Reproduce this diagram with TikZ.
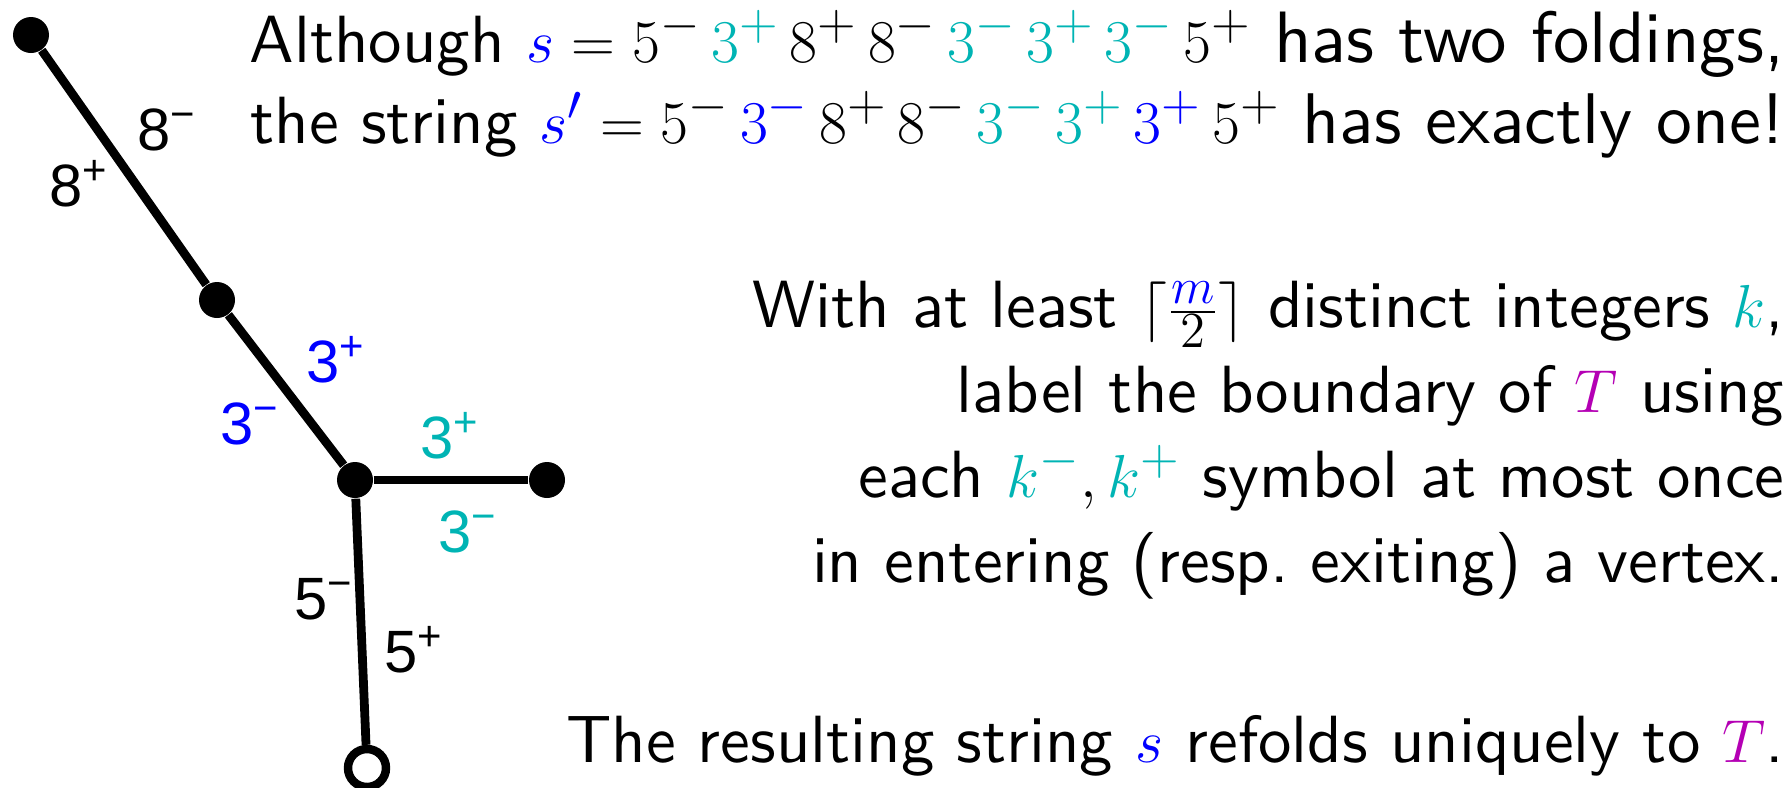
\documentclass[tikz,border=0pt]{standalone}
\usepackage{fontspec}
\usepackage{xcolor}
\usetikzlibrary{positioning}
\newfontfamily\lblfont{Liberation Sans}
\newfontfamily\txtfont{lmsans10-regular.otf}
\definecolor{sblue}{RGB}{0,0,255}
\definecolor{kcyan}{RGB}{0,180,180}
\definecolor{tmag}{RGB}{180,0,180}
\newcommand{\cy}[1]{\textcolor{kcyan}{#1}}
\newcommand{\bl}[1]{\textcolor{sblue}{#1}}
\newcommand{\mg}[1]{\textcolor{tmag}{#1}}
\newcommand{\wider}[2]{{\fontsize{#1}{24}\selectfont #2}}

\begin{document}
\begin{tikzpicture}[
  dot/.style={circle, fill=black, minimum size=0.36cm, inner sep=0pt},
  opendot/.style={circle, draw=black, fill=white, line width=2.4pt, minimum size=0.38cm, inner sep=0pt},
  treeline/.style={line width=2.5pt},
  lbl/.style={font=\lblfont\fontsize{17}{20}\selectfont, inner sep=0pt},
  txt/.style={font=\txtfont\fontsize{19}{23}\selectfont, anchor=base east, inner sep=0pt},
]
\useasboundingbox (0,0) rectangle (17.90,7.87);

% the tree
\node[dot] (top)  at (0.31,7.52) {};
\node[dot] (mid)  at (2.17,4.87) {};
\node[dot] (junc) at (3.55,3.07) {};
\node[dot] (leaf) at (5.47,3.07) {};
\node[opendot] (root) at (3.67,0.19) {};

\draw[treeline] (top) -- (mid) -- (junc);
\draw[treeline] (junc) -- (leaf);
\draw[treeline] (junc) -- (root);

% edge labels
\node[lbl] (e8m) at (1.67,6.57) {8\textsuperscript{−}};
\node[lbl] (e8p) at (0.79,6.03) {8\textsuperscript{+}};
\node[lbl, sblue] (b3p) at (3.36,4.27) {3\textsuperscript{+}};
\node[lbl, sblue] (b3m) at (2.50,3.63) {3\textsuperscript{−}};
\node[lbl, kcyan] (c3p) at (4.50,3.51) {3\textsuperscript{+}};
\node[lbl, kcyan] (c3m) at (4.68,2.55) {3\textsuperscript{−}};
\node[lbl] (e5m) at (3.24,1.88) {5\textsuperscript{−}};
\node[lbl] (e5p) at (4.14,1.37) {5\textsuperscript{+}};

% text
\node[txt] (l1) at (17.85,7.25) {Although $\bl{s} = 5^-\,\cy{3^+}\,8^+\,8^-\,\cy{3^-\,3^+\,3^-}\,5^+$ \wider{20.7}{has two foldings,}};
\node[txt] (l2) at (17.85,6.44) {the string $\bl{s'} = 5^-\,\bl{3^-}\,8^+\,8^-\,\cy{3^-\,3^+}\,\bl{3^+}\,5^+$ \wider{20.4}{has exactly one!}};
\node[txt] (l3) at (17.85,4.60) {With at least $\lceil\frac{\bl{m}}{2}\rceil$ distinct integers $\cy{k}$,};
\node[txt] (l4) at (17.85,3.75) {label the boundary of $\mg{T}$ using};
\node[txt] (l5) at (17.85,2.90) {each $\cy{k^-},\cy{k^+}$ symbol at most once};
\node[txt] (l6) at (17.85,2.05) {in entering (resp.\ exiting) a vertex.};
\node[txt] (l7) at (17.85,0.25) {The resulting string $\bl{s}$ refolds uniquely to $\mg{T}$.};
\end{tikzpicture}
\end{document}
